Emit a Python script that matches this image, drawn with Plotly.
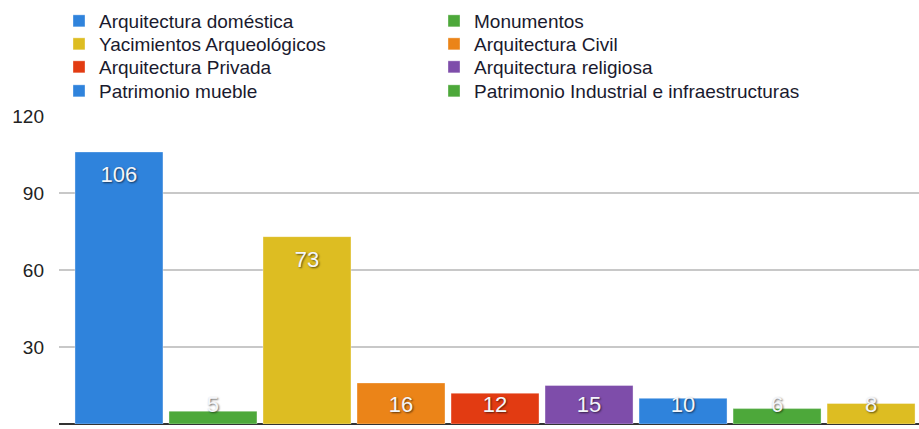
import plotly.graph_objects as go

categories = [
    "Arquitectura doméstica",
    "Monumentos",
    "Yacimientos Arqueológicos",
    "Arquitectura Civil",
    "Arquitectura Privada",
    "Arquitectura religiosa",
    "Patrimonio mueble",
    "Patrimonio Industrial e infraestructuras",
    "Otros",
]
values = [106, 5, 73, 16, 12, 15, 10, 6, 8]
colors = ["#2F83DC", "#4DA83A", "#DDBD22", "#EB8418", "#E23B12", "#7E4DAA", "#2F83DC", "#4DA83A", "#DDBD22"]
show_in_legend = [True, True, True, True, True, True, True, True, False]
legend_rows = ["legend", "legend", "legend2", "legend2", "legend3", "legend3", "legend4", "legend4", "legend4"]
y_ticks = [0, 30, 60, 90, 120]

FONT = "Liberation Sans, Arial, sans-serif"

fig = go.Figure()
for i, (c, v, col, sl, lg) in enumerate(zip(categories, values, colors, show_in_legend, legend_rows)):
    fig.add_trace(go.Bar(
        x=[i], y=[v], name=c, marker=dict(color=col, line=dict(color="rgba(255,255,255,0.35)", width=1)),
        showlegend=sl, legend=lg, hoverinfo="name+y",
    ))

# value labels placed near bar top (kept above the baseline for short bars)
label_y = [max(v - 9.5, 7.0) for v in values]
fig.add_trace(go.Scatter(
    x=list(range(len(values))), y=label_y, mode="text", text=[str(v) for v in values],
    textposition="middle center", showlegend=False, hoverinfo="skip",
    textfont=dict(family=FONT, size=22, color="#F4F6FA", shadow="1px 1px 2px rgba(0,0,0,0.6)"),
))

leg_rows_y = [21, 44, 67, 91]
legends = {}
for name, ypix in zip(["legend", "legend2", "legend3", "legend4"], leg_rows_y):
    legends[name] = dict(
        orientation="h", x=0.0, xref="paper", y=1 - ypix / 429, yref="container",
        xanchor="left", yanchor="middle",
        entrywidth=330, entrywidthmode="pixels",
        font=dict(size=19, color="#1a1a2e", family=FONT), itemwidth=30,
        bgcolor="rgba(0,0,0,0)", borderwidth=0,
    )

fig.update_layout(
    width=919, height=429,
    margin=dict(l=59, r=0, t=116, b=5, autoexpand=False),
    paper_bgcolor="white", plot_bgcolor="white",
    barmode="overlay", bargap=0.064,
    font=dict(family=FONT, color="#222222"),
    showlegend=True,
    **legends,
)
fig.update_xaxes(range=[-0.638, 8.51], showticklabels=False, showgrid=False, zeroline=False,
                 showline=False, ticks="")
fig.update_yaxes(range=[0, 120], tickvals=y_ticks, ticktext=[str(t) for t in y_ticks],
                 showgrid=True, gridcolor="#C8C8C8", gridwidth=1.5,
                 zeroline=True, zerolinecolor="#333333", zerolinewidth=2,
                 tickfont=dict(size=19, family=FONT, color="#222222"),
                 ticklabelstandoff=14, showline=False, ticks="")

fig.write_html("out.html", config={"displayModeBar": False},
               post_script="document.body.style.margin='0';document.body.style.overflow='hidden';")
